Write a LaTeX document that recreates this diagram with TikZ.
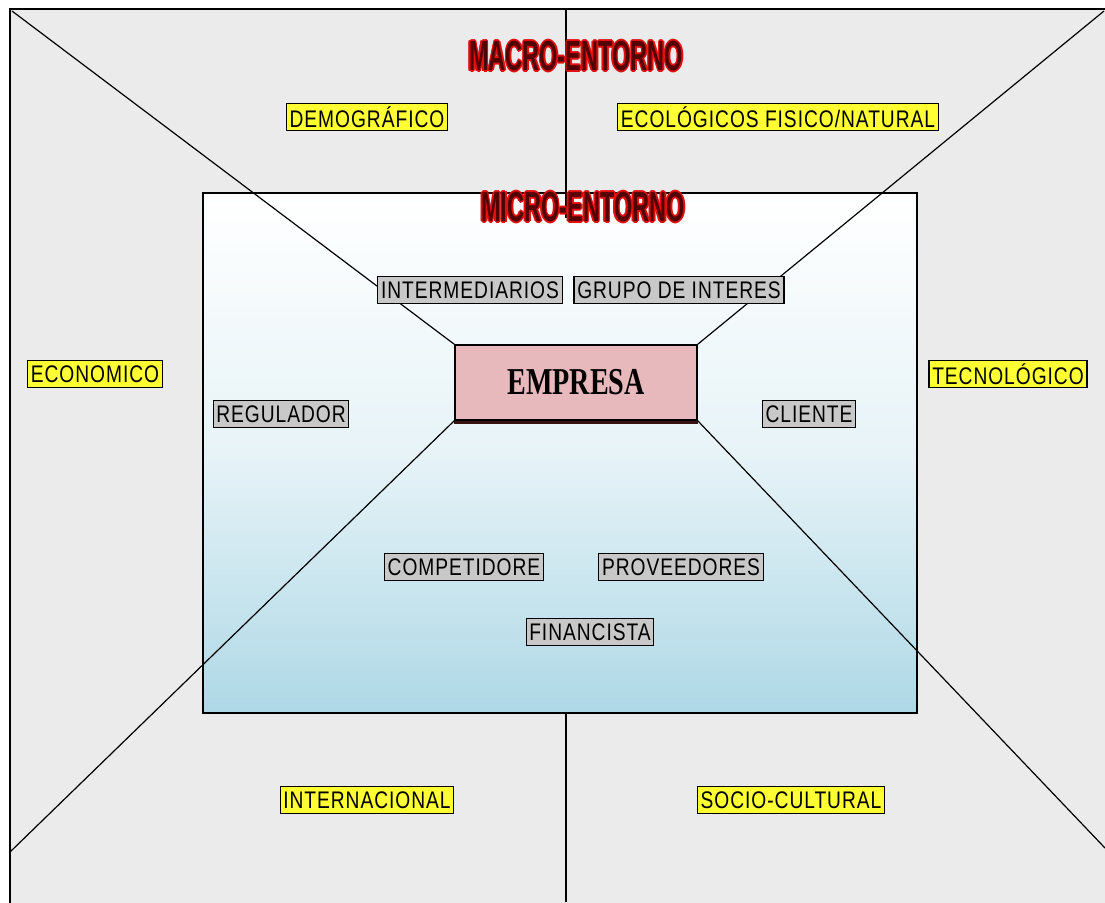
\documentclass[tikz,border=0pt]{standalone}
\usepackage{fontspec}
\setmainfont{Liberation Sans}
\newfontfamily\labfont[FakeStretch=0.8,LetterSpace=4]{Liberation Sans}
\newfontfamily\titlefont[FakeStretch=0.56]{Liberation Sans Bold}
\newfontfamily\empfont[FakeStretch=0.74]{Liberation Serif Bold}
\usetikzlibrary{positioning,calc}
\definecolor{macrogrey}{HTML}{EBEBEB}
\definecolor{microblue}{HTML}{AED8E6}
\definecolor{labyellow}{HTML}{FFFF33}
\definecolor{labgrey}{HTML}{C8C8C8}
\definecolor{emppink}{HTML}{E8B9BC}
\definecolor{empshadow}{HTML}{3A1212}
\definecolor{titlered}{HTML}{520000}
\definecolor{glowred}{HTML}{E01010}
\begin{document}
\begin{tikzpicture}[
  x=0.5pt, y=-0.5pt,
  lab/.style={draw=black, line width=0.6pt, inner sep=1.6pt, text=black,
              minimum height=13.5pt,
              font=\labfont\fontsize{12}{12}\selectfont},
  macrolab/.style={lab, fill=labyellow},
  microlab/.style={lab, fill=labgrey},
  ttl/.style={inner sep=0pt, font=\titlefont\fontsize{21}{21}\selectfont},
  glow/.style={ttl, text=glowred},
  rail/.style={line width=0.6pt, black}
]
\clip (0,0) rectangle (1105,902);
\useasboundingbox (0,0) rectangle (1105,902);
% ================= macro frame =================
\fill[white] (0,0) rectangle (1105,902);
\draw[fill=macrogrey, line width=1.2pt] (10,9) rectangle (1120,920);
% ================= micro box =================
\node[draw, line width=0.8pt, minimum width=357pt, minimum height=260pt,
      top color=white, bottom color=microblue, middle color=white!70!microblue,
      inner sep=0pt] (micro) at (560,453) {};
% ================= corners and spokes =================
\coordinate (ctl) at (12,11);
\coordinate (ctr) at (1104,11);
\coordinate (cbl) at (10,852);
\coordinate (cbr) at (1105,848);
\coordinate (vtop) at (566,9);
\coordinate (vmid) at (566,218);
\coordinate (vbot) at (566,902);
\node[draw=black, line width=0.8pt, fill=emppink, minimum width=121pt,
      minimum height=37.5pt, inner sep=0pt,
      font=\empfont\fontsize{19}{19}\selectfont] (empresa) at (576,382.5) {EMPRESA};
\draw[empshadow, line width=1.6pt] ([yshift=-0.8pt]empresa.south west) -- ([yshift=-0.8pt]empresa.south east);
\foreach \c/\a in {ctl/north west, ctr/north east, cbl/south west, cbr/south east}
  {\draw[rail] (\c) -- (empresa.\a);}
\draw[rail] (vtop) -- (vmid);
\draw[rail] (micro.south -| vbot) -- (vbot);
% ================= macro factors =================
\node[macrolab] (demog) at (367,117) {DEMOGRÁFICO};
\node[macrolab] (ecolo) at (778,117) {ECOLÓGICOS FISICO/NATURAL};
\node[macrolab] (econo) at (95,374) {ECONOMICO};
\node[macrolab] (tecno) at (1008,374) {TECNOLÓGICO};
\node[macrolab] (inter) at (367,800) {INTERNACIONAL};
\node[macrolab] (socio) at (791,800) {SOCIO-CULTURAL};
% ================= micro actors =================
\node[microlab] (intermed) at (470,290) {INTERMEDIARIOS};
\node[microlab] (grupo) at (679,290) {GRUPO DE INTERES};
\node[microlab] (regul) at (281,414) {REGULADOR};
\node[microlab] (clien) at (809,414) {CLIENTE};
\node[microlab] (compe) at (464,567) {COMPETIDORE};
\node[microlab] (prove) at (681,567) {PROVEEDORES};
\node[microlab] (finan) at (590,632) {FINANCISTA};
% ================= titles with red glow =================
\foreach \dx/\dy in {-0.8/0, 0.8/0, 0/-0.8, 0/0.8, -0.6/-0.6, 0.6/0.6, -0.6/0.6, 0.6/-0.6}{
  \node[glow] (macroglow) at ([xshift=\dx pt, yshift=\dy pt]576,56) {MACRO-ENTORNO};
  \node[glow] (microglow) at ([xshift=\dx pt, yshift=\dy pt]583,207) {MICRO-ENTORNO};
}
\node[ttl, text=titlered] (macrottl) at (576,56) {MACRO-ENTORNO};
\node[ttl, text=titlered] (microttl) at (583,207) {MICRO-ENTORNO};
\end{tikzpicture}
\end{document}
